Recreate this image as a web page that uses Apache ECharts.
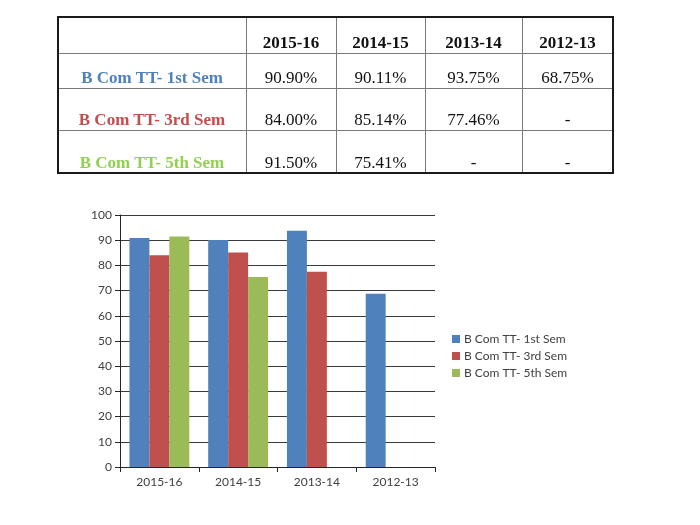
<!DOCTYPE html>
<html>
<head>
<meta charset="utf-8">
<script src="https://cdn.jsdelivr.net/npm/echarts@6/dist/echarts.min.js"></script>
<style>
  html, body { margin: 0; padding: 0; background: #fff; }
  #chart { position: absolute; left: 0; top: 0; width: 700px; height: 525px; }
  #table { position: absolute; left: 0; top: 0; width: 700px; height: 190px; }
  .cell { position: absolute; text-align: center; font-family: "Liberation Serif", "Times New Roman", serif; font-size: 17px; line-height: 17px; color: #111; white-space: nowrap; }
  .line { position: absolute; }
</style>
</head>
<body>
<div id="chart"></div>
<div id="table"></div>
<script>
// ---- data ----
var categories = ['2015-16', '2014-15', '2013-14', '2012-13'];
var seriesNames = ['B Com TT- 1st Sem', 'B Com TT- 3rd Sem', 'B Com TT- 5th Sem'];
var sem1 = [90.90, 90.11, 93.75, 68.75];
var sem3 = [84.00, 85.14, 77.46, null];
var sem5 = [91.50, 75.41, null, null];
var yTicks = [0, 10, 20, 30, 40, 50, 60, 70, 80, 90, 100];

// ---- styles ----
var colors = ['#4F81BD', '#C0504D', '#9BBB59'];
var labelColors = ['#4F81BD', '#C0504D', '#92D050'];

// ---- table ----
(function () {
  var colEdges = [58, 246, 336, 425, 522, 613];
  var rowEdges = [17, 53, 88, 130, 173];
  var host = document.getElementById('table');
  var rows = [sem1, sem3, sem5];
  function addText(txt, c, r, bold, color) {
    var d = document.createElement('div');
    d.className = 'cell';
    d.textContent = txt;
    d.style.left = colEdges[c] + 'px';
    d.style.width = (colEdges[c + 1] - colEdges[c]) + 'px';
    d.style.top = (rowEdges[r + 1] - 2 - 17) + 'px';
    if (bold) d.style.fontWeight = 'bold';
    if (color) d.style.color = color;
    host.appendChild(d);
  }
  function addLine(x, y, w, h, color) {
    var d = document.createElement('div');
    d.className = 'line';
    d.style.left = x + 'px'; d.style.top = y + 'px';
    d.style.width = w + 'px'; d.style.height = h + 'px';
    d.style.background = color;
    host.appendChild(d);
  }
  for (var i = 1; i < colEdges.length - 1; i++) addLine(colEdges[i], rowEdges[0], 1, rowEdges[rowEdges.length - 1] - rowEdges[0], '#7a7a7a');
  for (var j = 1; j < rowEdges.length - 1; j++) addLine(colEdges[0], rowEdges[j], colEdges[colEdges.length - 1] - colEdges[0], 1, '#7a7a7a');
  var L = colEdges[0], R = colEdges[colEdges.length - 1], T = rowEdges[0], B = rowEdges[rowEdges.length - 1];
  addLine(L - 1, T - 1, R - L + 2, 2, '#1a1a1a');
  addLine(L - 1, B - 1, R - L + 2, 2, '#1a1a1a');
  addLine(L - 1, T - 1, 2, B - T + 2, '#1a1a1a');
  addLine(R - 1, T - 1, 2, B - T + 2, '#1a1a1a');
  categories.forEach(function (c, k) { addText(c, k + 1, 0, true, '#111'); });
  rows.forEach(function (vals, r) {
    addText(seriesNames[r], 0, r + 1, true, labelColors[r]);
    vals.forEach(function (v, k) {
      addText(v == null ? '-' : v.toFixed(2) + '%', k + 1, r + 1, false, '#111');
    });
  });
})();

// ---- chart ----
var chart = echarts.init(document.getElementById('chart'), null, { renderer: 'canvas' });
var font = 'Lato, "Open Sans", sans-serif';
var seriesData = [sem1, sem3, sem5];
chart.setOption({
  animation: false,
  color: colors,
  grid: { left: 120, right: 265, top: 215, bottom: 58, containLabel: false },
  legend: {
    orient: 'vertical',
    left: 447,
    top: 328,
    itemWidth: 8,
    itemHeight: 8,
    itemGap: 5,
    icon: 'rect',
    textStyle: { fontFamily: font, fontSize: 12, color: '#404040', padding: [0, 0, 0, -1] },
    data: seriesNames
  },
  xAxis: {
    type: 'category',
    data: categories,
    axisLine: { lineStyle: { color: '#262626', width: 1 } },
    axisTick: { show: true, length: 5, lineStyle: { color: '#262626' } },
    axisLabel: { fontFamily: font, fontSize: 12, color: '#404040', margin: 9 },
    splitLine: { show: false }
  },
  yAxis: {
    type: 'value',
    min: yTicks[0],
    max: yTicks[yTicks.length - 1],
    interval: yTicks[1] - yTicks[0],
    axisLine: { show: true, lineStyle: { color: '#262626', width: 1 } },
    axisTick: { show: true, length: 5, lineStyle: { color: '#262626' } },
    axisLabel: { fontFamily: font, fontSize: 12, color: '#404040', margin: 8 },
    splitLine: { show: true, lineStyle: { color: '#3a3a3a', width: 1 } }
  },
  series: seriesNames.map(function (n, i) {
    return {
      name: n,
      type: 'bar',
      data: seriesData[i],
      barGap: '0%',
      barCategoryGap: '24%',
      itemStyle: { color: colors[i] }
    };
  })
});
</script>
</body>
</html>
